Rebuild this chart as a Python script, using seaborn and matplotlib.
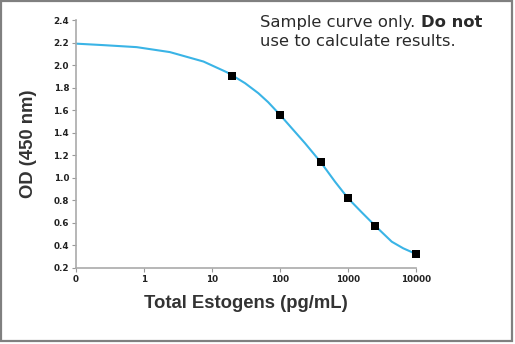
import matplotlib
matplotlib.use("Agg")
import matplotlib.pyplot as plt
import seaborn as sns
import pandas as pd
from matplotlib.patches import Rectangle

# Standard points (concentration pg/mL, OD 450 nm)
std_conc = [20, 100, 400, 1000, 2500, 10000]
std_od = [1.907, 1.558, 1.135, 0.817, 0.573, 0.322]

# Fitted curve (0.1 stands for the "0" position)
curve_conc = [0.1, 0.25, 0.78, 2.4, 7.5, 16.4, 20, 30.6, 48, 67, 100, 149, 233, 400,
              644, 1000, 1590, 2500, 4400, 6500, 10000]
curve_od = [2.19, 2.177, 2.159, 2.115, 2.031, 1.937, 1.907, 1.839, 1.750, 1.670, 1.558,
            1.439, 1.306, 1.135, 0.964, 0.817, 0.692, 0.573, 0.431, 0.372, 0.322]

x_ticks = [0.1, 1, 10, 100, 1000, 10000]
x_tick_labels = ["0", "1", "10", "100", "1000", "10000"]
y_ticks = [0.2, 0.4, 0.6, 0.8, 1.0, 1.2, 1.4, 1.6, 1.8, 2.0, 2.2, 2.4]

sns.set_style("white")
plt.rcParams["font.family"] = ["Liberation Sans", "DejaVu Sans"]

fig = plt.figure(figsize=(5.15, 3.44), dpi=100)
ax = fig.add_axes([76 / 515, 76.3 / 344, 340 / 515, 247.7 / 344])

curve_df = pd.DataFrame({"conc": curve_conc, "od": curve_od})
std_df = pd.DataFrame({"conc": std_conc, "od": std_od})

sns.lineplot(data=curve_df, x="conc", y="od", ax=ax, color="#3AB4E6", linewidth=1.5,
             sort=True, clip_on=False)
sns.scatterplot(data=std_df, x="conc", y="od", ax=ax, marker="s", color="black", s=38,
                edgecolor="black", linewidth=0, zorder=5, clip_on=False)

ax.set_xscale("log")
ax.set_xlim(0.1, 10000)
ax.set_ylim(0.2, 2.4)
ax.set_xticks(x_ticks)
ax.set_xticklabels(x_tick_labels)
ax.minorticks_off()
ax.set_yticks(y_ticks)
ax.set_yticklabels([f"{v:.1f}" for v in y_ticks])

narrow = ["Liberation Sans Narrow", "DejaVu Sans"]
for lab in ax.get_xticklabels() + ax.get_yticklabels():
    lab.set_fontfamily(narrow)
    lab.set_fontweight("bold")
    lab.set_fontsize(6.3)
    lab.set_color("#222222")

ax.tick_params(axis="both", direction="out", length=3, width=0.8, color="#999999", pad=2,
               bottom=True, left=True)

for side in ["top", "right"]:
    ax.spines[side].set_visible(False)
for side in ["left", "bottom"]:
    ax.spines[side].set_color("#AAAAAA")
    ax.spines[side].set_linewidth(1.2)

ax.set_xlabel("Total Estogens (pg/mL)", fontsize=13.3, fontweight="bold", color="#333333", labelpad=8)
ax.set_ylabel("OD (450 nm)", fontsize=13.3, fontweight="bold", color="#333333", labelpad=12)

note_font = ["DejaVu Sans"]
t1 = fig.text(260.5 / 515, 1 - 27.3 / 344, "Sample curve only. ", fontsize=11.8, color="#2a2a2a",
              va="baseline", ha="left", family=note_font)
fig.canvas.draw()
ax.annotate("Do not", xy=(1, 0), xycoords=t1, va="bottom", ha="left", fontsize=11.8,
            fontweight="bold", color="#2a2a2a", family=note_font)
fig.text(260.5 / 515, 1 - 45.7 / 344, "use to calculate results.", fontsize=11.8, color="#2a2a2a",
         va="baseline", ha="left", family=note_font)

fig.patches.append(Rectangle((1 / 515, 3.5 / 344), 510.5 / 515, 339.5 / 344,
                             transform=fig.transFigure, fill=False,
                             edgecolor="#808080", linewidth=1.6))

fig.savefig("out.png", dpi=100)
